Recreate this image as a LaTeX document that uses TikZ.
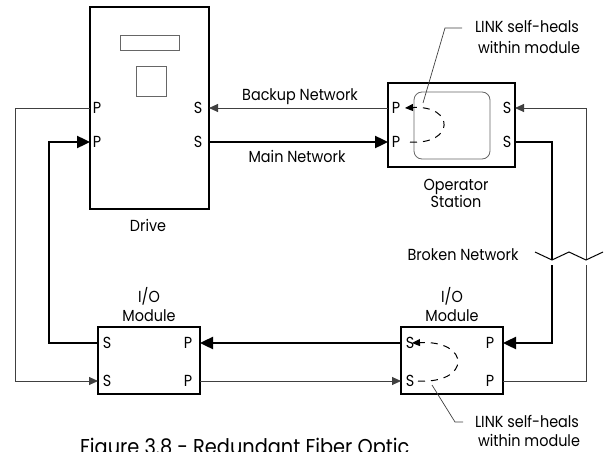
\documentclass[tikz,border=0pt]{standalone}
\usepackage{fontspec}
\setmainfont[FakeStretch=0.9]{Poppins}
\usetikzlibrary{arrows.meta}
\begin{document}
\begin{tikzpicture}[x=1pt,y=-1pt,
  box/.style={draw,line width=1.4pt,inner sep=0pt,outer sep=0pt},
  lbl/.style={font=\fontsize{16}{18}\selectfont,inner sep=0pt,anchor=base},
  portl/.style={font=\fontsize{16}{18}\selectfont,inner sep=0pt,anchor=base},
  thinln/.style={draw=black!75,line width=0.9pt},
  thickln/.style={draw=black,line width=2.4pt},
  tha/.style={-{Triangle[length=9pt,width=8pt]}},
  tka/.style={-{Triangle[length=13pt,width=12pt]}},
  heal/.style={draw=black,line width=1pt,dash pattern=on 7pt off 6pt,-{Triangle[length=8pt,width=7pt]}},
  inner/.style={draw=black!60,line width=0.8pt}
]
\useasboundingbox (0,0) rectangle (608,452);

% boxes
\node[box,minimum width=119pt,minimum height=202pt] (drive) at (149.5,108) {};
\node[box,minimum width=127pt,minimum height=84pt] (os) at (451.5,125) {};
\node[box,minimum width=102pt,minimum height=67pt] (iol) at (149,360.5) {};
\node[box,minimum width=102pt,minimum height=67pt] (ior) at (452,360.5) {};

\draw[inner] (120,35) rectangle (179,50);
\draw[inner] (136,66) rectangle (166,96);
\draw[inner,rounded corners=8pt] (414,92) rectangle (490,159);

% port coordinates
\coordinate (dP1) at (90,108);  \coordinate (dP2) at (90,142);
\coordinate (dS1) at (209,108); \coordinate (dS2) at (209,142);
\coordinate (oP1) at (388,108); \coordinate (oP2) at (388,142);
\coordinate (oS1) at (515,108); \coordinate (oS2) at (515,142);
\coordinate (lS1) at (98,343);  \coordinate (lS2) at (98,381);
\coordinate (lP1) at (200,343); \coordinate (lP2) at (200,381);
\coordinate (rS1) at (401,343); \coordinate (rS2) at (401,381);
\coordinate (rP1) at (503,343); \coordinate (rP2) at (503,381);

% port labels
\node[portl] (tdP1) at (97,113.5) {P};  \node[portl] (tdP2) at (97,147.5) {P};
\node[portl] (tdS1) at (198,113.5) {S}; \node[portl] (tdS2) at (198,147.5) {S};
\node[portl] (toP1) at (396,113.5) {P}; \node[portl] (toP2) at (396,147.5) {P};
\node[portl] (toS1) at (507,113.5) {S}; \node[portl] (toS2) at (507,147.5) {S};
\node[portl] (tlS1) at (107,348.5) {S}; \node[portl] (tlS2) at (107,386.5) {S};
\node[portl] (tlP1) at (188,348.5) {P}; \node[portl] (tlP2) at (188,386.5) {P};
\node[portl] (trS1) at (410,348.5) {S}; \node[portl] (trS2) at (410,386.5) {S};
\node[portl] (trP1) at (490,348.5) {P}; \node[portl] (trP2) at (490,386.5) {P};

% connectors
\draw[thinln,tha] (oP1) -- (dS1);
\draw[thickln,tka] (dS2) -- (oP2);
\draw[thinln,tha] (dP1) -- (15,108) -- (15,381) -- (lS2);
\draw[thickln,tka] (lS1) -- (49,343) -- (49,142) -- (dP2);
\draw[thinln,tha] (lP2) -- (rS2);
\draw[thickln,tka] (rS1) -- (lP1);

\coordinate (bkA) at (552,260); \coordinate (bkB) at (552,265);
\coordinate (bkC) at (586,260); \coordinate (bkD) at (586,265);
\draw[thickln] (oS2) -- (552,142) -- (bkA);
\draw[thickln,tka] (bkB) -- (552,343) -- (rP1);
\draw[thinln] (rP2) -- (586,381) -- (bkD);
\draw[thinln,tha] (bkC) -- (586,108) -- (oS1);
\draw[line width=1pt] (535,252) -- (bkA) -- (569,252) -- (bkC) -- (603,252);

% self-heal loops
\draw[heal] (410,142) .. controls (455,145) and (455,105) .. (405,108);
\draw[heal] (418,381) .. controls (471,384) and (471,340) .. (412,343);

% leaders
\draw[thinln,line width=0.7pt] (423,103) -- (445,28) -- (462,28);
\draw[thinln,line width=0.7pt] (432,385) -- (455,422) -- (463,422);

% labels
\node[lbl] (l1) at (527,33) {LINK self-heals};
\node[lbl] (l2) at (529,54) {within module};
\node[lbl] (l3) at (527,427) {LINK self-heals};
\node[lbl] (l4) at (529,446.5) {within module};
\node[lbl] (bn) at (300,100) {Backup Network};
\node[lbl] (mn) at (297,162) {Main Network};
\node[lbl] (dr) at (148,231) {Drive};
\node[lbl] (op) at (456,190) {Operator};
\node[lbl] (st) at (456,207) {Station};
\node[lbl] (io1) at (149,302) {I/O};
\node[lbl] (mo1) at (149,321) {Module};
\node[lbl] (io2) at (452,302) {I/O};
\node[lbl] (mo2) at (452,321) {Module};
\node[lbl] (br) at (463,260) {Broken Network};
\node[anchor=base west,inner sep=0pt,font=\fontsize{21.5}{24}\selectfont] (cap) at (80,454) {Figure 3.8 - Redundant Fiber Optic};
\end{tikzpicture}
\end{document}
